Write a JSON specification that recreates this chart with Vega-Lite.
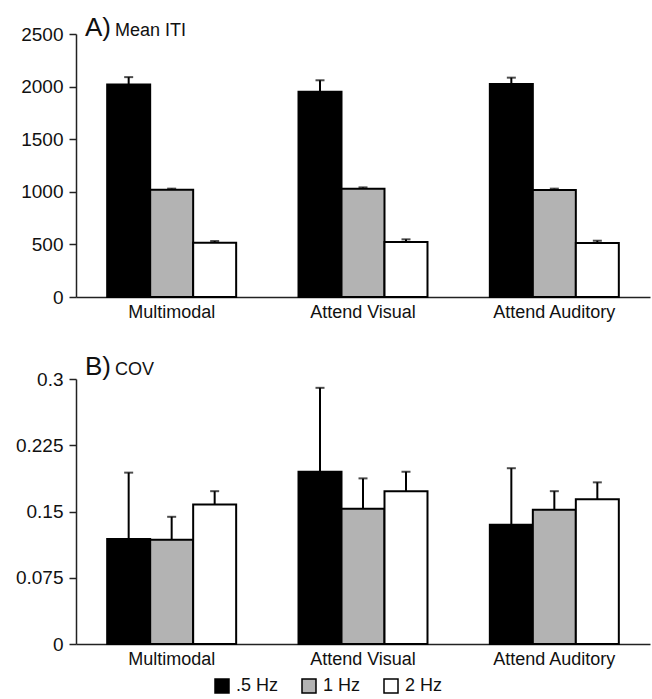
{
  "$schema": "https://vega.github.io/schema/vega-lite/v6.json",
  "padding": {"left": 15, "right": 2, "top": 15, "bottom": 5},
  "background": "white",
  "spacing": 33,
  "datasets": {
    "iti": [
      {"cond": "Multimodal", "freq": ".5 Hz", "value": 2020, "upper": 2090},
      {"cond": "Multimodal", "freq": "1 Hz", "value": 1020, "upper": 1030},
      {"cond": "Multimodal", "freq": "2 Hz", "value": 515, "upper": 532},
      {"cond": "Attend Visual", "freq": ".5 Hz", "value": 1950, "upper": 2060},
      {"cond": "Attend Visual", "freq": "1 Hz", "value": 1030, "upper": 1042},
      {"cond": "Attend Visual", "freq": "2 Hz", "value": 522, "upper": 548},
      {"cond": "Attend Auditory", "freq": ".5 Hz", "value": 2025, "upper": 2085},
      {"cond": "Attend Auditory", "freq": "1 Hz", "value": 1018, "upper": 1030},
      {"cond": "Attend Auditory", "freq": "2 Hz", "value": 513, "upper": 535}
    ],
    "cov": [
      {"cond": "Multimodal", "freq": ".5 Hz", "value": 0.119, "upper": 0.194},
      {"cond": "Multimodal", "freq": "1 Hz", "value": 0.118, "upper": 0.144},
      {"cond": "Multimodal", "freq": "2 Hz", "value": 0.158, "upper": 0.173},
      {"cond": "Attend Visual", "freq": ".5 Hz", "value": 0.195, "upper": 0.29},
      {"cond": "Attend Visual", "freq": "1 Hz", "value": 0.153, "upper": 0.1875},
      {"cond": "Attend Visual", "freq": "2 Hz", "value": 0.173, "upper": 0.195},
      {"cond": "Attend Auditory", "freq": ".5 Hz", "value": 0.135, "upper": 0.199},
      {"cond": "Attend Auditory", "freq": "1 Hz", "value": 0.152, "upper": 0.173},
      {"cond": "Attend Auditory", "freq": "2 Hz", "value": 0.164, "upper": 0.183}
    ]
  },
  "config": {
    "font": "Liberation Sans",
    "view": {"stroke": null},
    "axis": {"grid": false, "domainColor": "#222", "domainWidth": 1.5, "tickColor": "#222", "tickWidth": 1.5, "labelColor": "#111", "title": null},
    "axisX": {"ticks": false, "labelAngle": 0, "labelFontSize": 18, "labelPadding": 6},
    "axisY": {"tickSize": 7, "labelFontSize": 19, "labelPadding": 6, "labelExpr": "'' + datum.value"},
    "legend": {"orient": "none", "legendX": 137, "legendY": 643, "direction": "horizontal", "labelFontSize": 18, "labelColor": "#111", "symbolType": "square", "symbolSize": 196, "symbolStrokeColor": "black", "symbolStrokeWidth": 1.5, "columnPadding": 20, "labelOffset": 5, "gridAlign": "none"}
  },
  "vconcat": [
    {
      "width": 574,
      "height": 263,
      "title": {"text": "A)", "subtitle": "\u200b\u00a0\u00a0\u00a0\u00a0\u00a0\u00a0Mean ITI", "anchor": "start", "frame": "group", "fontSize": 26, "fontWeight": "normal", "color": "#111", "subtitleFontSize": 18, "subtitleColor": "#111", "subtitlePadding": -19, "dx": 9, "offset": -16},
      "data": {"name": "iti"},
      "encoding": {
        "x": {"field": "cond", "type": "nominal", "sort": ["Multimodal", "Attend Visual", "Attend Auditory"], "scale": {"paddingInner": 0, "paddingOuter": 0}},
        "xOffset": {"field": "freq", "type": "nominal", "sort": [".5 Hz", "1 Hz", "2 Hz"], "scale": {"paddingInner": 0, "paddingOuter": 0.725}}
      },
      "layer": [
        {
          "mark": {"type": "rule", "strokeWidth": 2, "color": "black"},
          "encoding": {
            "y": {"field": "value", "type": "quantitative", "scale": {"domain": [0, 2500], "nice": false}, "axis": {"values": [0, 500, 1000, 1500, 2000, 2500]}},
            "y2": {"field": "upper"}
          }
        },
        {
          "mark": {"type": "tick", "thickness": 2, "size": 9, "color": "black"},
          "encoding": {"y": {"field": "upper", "type": "quantitative"}}
        },
        {
          "mark": {"type": "bar", "stroke": "black", "strokeWidth": 2},
          "encoding": {
            "y": {"field": "value", "type": "quantitative"},
            "fill": {"field": "freq", "type": "nominal", "scale": {"domain": [".5 Hz", "1 Hz", "2 Hz"], "range": ["#000000", "#b3b3b3", "#ffffff"]}, "legend": {"title": null}}
          }
        }
      ]
    },
    {
      "width": 574,
      "height": 265,
      "title": {"text": "B)", "subtitle": "\u200b\u00a0\u00a0\u00a0\u00a0\u00a0\u00a0COV", "anchor": "start", "frame": "group", "fontSize": 26, "fontWeight": "normal", "color": "#111", "subtitleFontSize": 18, "subtitleColor": "#111", "subtitlePadding": -19, "dx": 9, "offset": -10},
      "data": {"name": "cov"},
      "encoding": {
        "x": {"field": "cond", "type": "nominal", "sort": ["Multimodal", "Attend Visual", "Attend Auditory"], "scale": {"paddingInner": 0, "paddingOuter": 0}},
        "xOffset": {"field": "freq", "type": "nominal", "sort": [".5 Hz", "1 Hz", "2 Hz"], "scale": {"paddingInner": 0, "paddingOuter": 0.725}}
      },
      "layer": [
        {
          "mark": {"type": "rule", "strokeWidth": 2, "color": "black"},
          "encoding": {
            "y": {"field": "value", "type": "quantitative", "scale": {"domain": [0, 0.3], "nice": false}, "axis": {"values": [0, 0.075, 0.15, 0.225, 0.3]}},
            "y2": {"field": "upper"}
          }
        },
        {
          "mark": {"type": "tick", "thickness": 2, "size": 9, "color": "black"},
          "encoding": {"y": {"field": "upper", "type": "quantitative"}}
        },
        {
          "mark": {"type": "bar", "stroke": "black", "strokeWidth": 2},
          "encoding": {
            "y": {"field": "value", "type": "quantitative"},
            "fill": {"field": "freq", "type": "nominal", "scale": {"domain": [".5 Hz", "1 Hz", "2 Hz"], "range": ["#000000", "#b3b3b3", "#ffffff"]}, "legend": {"title": null}}
          }
        }
      ]
    }
  ]
}
